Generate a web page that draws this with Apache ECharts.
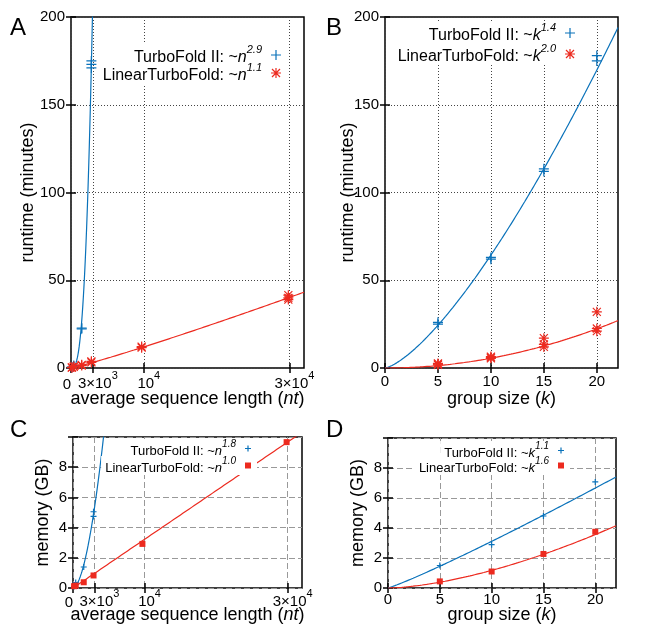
<!DOCTYPE html>
<html><head><meta charset="utf-8">
<script src="https://cdn.jsdelivr.net/npm/echarts@6/dist/echarts.min.js"></script>
<style>html,body{margin:0;padding:0;background:#fff}#c{width:646px;height:627px}</style>
</head><body><div id="c"></div>
<script>
// ---------- data ----------
const lengthTicks = [0, 3000, 10000, 30000];
const groupTicks = [0, 5, 10, 15, 20];

// A: runtime (minutes) vs average sequence length (nt)
const runLenTurboX = [120, 120, 380, 380, 1470, 1470, 2800, 2800, 2800];
const runLenTurboY = [0.3, 0.5, 1.0, 1.4, 22.3, 22.8, 171, 173, 175];
const runLenLinearX = [120, 120, 380, 380, 1470, 1470, 2800, 2800, 9700, 9700, 29850, 29850, 29850];
const runLenLinearY = [0.2, 0.4, 0.6, 0.9, 1.4, 1.8, 3.2, 3.8, 11.6, 12.2, 39, 40, 41.5];
// fit: [exponent, anchor x, anchor y]
const fitRunLenTurbo = [2.9, 2800, 173];
const fitRunLenLinear = [1.1, 29850, 40];

// B: runtime (minutes) vs group size (k)
const runGrpTurboX = [5, 5, 10, 10, 15, 15, 20, 20];
const runGrpTurboY = [25, 26, 62, 63, 112, 113.5, 175, 178];
const runGrpLinearX = [5, 5, 5, 10, 10, 10, 15, 15, 15, 20, 20, 20];
const runGrpLinearY = [1.8, 2.2, 2.6, 5.5, 6.0, 6.5, 12, 13.5, 17, 21, 22.5, 32];
const fitRunGrpTurbo = [1.4, 22, 194];
const fitRunGrpLinear = [2.0, 22, 27];

// C: memory (GB) vs average sequence length (nt)
const memLenTurboX = [150, 380, 1500, 2870, 2870];
const memLenTurboY = [0.1, 0.36, 1.39, 4.74, 5.05];
const memLenLinearX = [150, 380, 1500, 2870, 9700, 29850];
const memLenLinearY = [0.12, 0.16, 0.38, 0.83, 2.92, 9.66];
const fitMemLenTurbo = [1.8, 2870, 4.9];
const fitMemLenLinear = [1.0, 29850, 9.62];

// D: memory (GB) vs group size (k)
const memGrpTurboX = [5, 10, 15, 20];
const memGrpTurboY = [1.5, 2.89, 4.8, 7.07];
const memGrpLinearX = [5, 10, 15, 20];
const memGrpLinearY = [0.44, 1.1, 2.27, 3.75];
const fitMemGrpTurbo = [1.1, 22, 7.4];
const fitMemGrpLinear = [1.6, 22, 4.15];

// ---------- style ----------
const FONT = 'Liberation Sans, Arial, Helvetica, sans-serif';
const BLUE = '#0a72ba';
const RED = '#ec2a1f';
const PLUS = 'path://M-5,-0.6H5V0.6H-5ZM-0.6,-5H0.6V5H-0.6Z';
const PLUS_BOLD = 'path://M-5,-1H5V1H-5ZM-1,-5H1V5H-1Z';
const STAR = 'path://M-5,-0.6H5V0.6H-5ZM-0.6,-5H0.6V5H-0.6Z' +
  'M-3.58,-4.42L4.42,3.58L3.58,4.42L-4.42,-3.58Z' +
  'M-4.42,3.58L3.58,-4.42L4.42,-3.58L-3.58,4.42Z';

function pairs(xs, ys) { return xs.map((x, i) => [x, ys[i]]); }
function fitCurve(p, xmax, ymax) {
  const [e, x0, y0] = p;
  const a = y0 / Math.pow(x0, e);
  const xEnd = Math.min(xmax, Math.pow(ymax * 1.03 / a, 1 / e));
  const pts = [];
  for (let i = 0; i <= 300; i++) { const x = xEnd * i / 300; pts.push([x, a * Math.pow(x, e)]); }
  return pts;
}

const grids = [
  { left: 71, top: 17, width: 233, height: 351 },
  { left: 385, top: 17, width: 233, height: 351 },
  { left: 73, top: 437, width: 229, height: 151 },
  { left: 388, top: 438, width: 228, height: 150 }
].map(g => Object.assign({ show: true, borderColor: '#000', borderWidth: 1.5, backgroundColor: 'transparent' }, g));

const dotted = { show: true, lineStyle: { color: '#444', width: 1, type: [1, 2] } };
const dashed = { show: true, lineStyle: { color: '#999', width: 1, type: [6, 3] } };

function tickRich(fs) {
  return {
    b: { fontFamily: FONT, fontSize: fs, color: '#000', lineHeight: fs + 6, verticalAlign: 'bottom', padding: [0, 0, 0, 10] },
    p: { fontFamily: FONT, fontSize: fs - 4, color: '#000', lineHeight: fs - 4, verticalAlign: 'top' }
  };
}
function lenLabel(v) {
  if (v === 3000) return '{b|3×10}{p|3}';
  if (v === 10000) return '{b|10}{p|4}';
  if (v === 30000) return '{b|3×10}{p|4}';
  return '';
}
const nameRich = {
  a: { fontFamily: FONT, fontSize: 18, color: '#000' },
  i: { fontFamily: FONT, fontSize: 18, color: '#000', fontStyle: 'italic' }
};
const tickStyle = { show: true, inside: true, length: 5, lineStyle: { color: '#000', width: 1.5 } };

function xLen(gi, gap, fs, margin) {
  const ticks = lengthTicks.filter(v => v !== 0);
  return {
    type: 'value', gridIndex: gi, min: 0, max: 32000,
    axisLine: { show: false },
    axisTick: Object.assign({ customValues: lengthTicks }, tickStyle),
    axisLabel: { customValues: ticks, formatter: lenLabel, margin: margin, rich: tickRich(fs),
      showMinLabel: true, showMaxLabel: true, hideOverlap: false },
    splitLine: gi === 0 ? dotted : dashed,
    name: '{a|average sequence length (}{i|nt}{a|)}', nameLocation: 'middle', nameGap: gap,
    nameMoveOverlap: false,
    nameTextStyle: { rich: nameRich }
  };
}
// separate bottom axis carrying only the "0" label of the length axes
function xLenZero(gi, fs, margin) {
  return {
    type: 'value', gridIndex: gi, min: 0, max: 32000, position: 'bottom', offset: 0,
    axisLine: { show: false }, axisTick: { show: false }, splitLine: { show: false },
    axisLabel: { customValues: [lengthTicks[0]], margin: margin + 3, fontFamily: FONT, fontSize: fs, color: '#000',
      align: 'right', padding: [0, 0, 0, 0], showMinLabel: true }
  };
}
function xGrp(gi, gap, fs, margin) {
  return {
    type: 'value', gridIndex: gi, min: 0, max: 22, interval: 5,
    axisLine: { show: false },
    axisTick: Object.assign({ customValues: groupTicks }, tickStyle),
    axisLabel: { customValues: groupTicks, margin: margin, fontFamily: FONT, fontSize: fs, color: '#000' },
    splitLine: gi === 1 ? dotted : dashed,
    name: '{a|group size (}{i|k}{a|)}', nameLocation: 'middle', nameGap: gap,
    nameMoveOverlap: false,
    nameTextStyle: { rich: nameRich }
  };
}
function yAx(gi, max, interval, title, gap, hideTop, fs) {
  return {
    type: 'value', gridIndex: gi, min: 0, max: max, interval: interval,
    axisLine: { show: false },
    axisTick: tickStyle,
    axisLabel: { margin: 6, fontFamily: FONT, fontSize: fs, color: '#000',
      formatter: v => (hideTop && v === max) ? '' : String(v) },
    splitLine: gi < 2 ? dotted : dashed,
    name: title, nameLocation: 'middle', nameGap: gap, nameRotate: 90,
    nameMoveOverlap: false,
    nameTextStyle: { fontFamily: FONT, fontSize: 18, color: '#000' }
  };
}
function mirrorX(base) {
  return Object.assign({}, base, { position: 'top', name: '', axisLabel: { show: false }, splitLine: { show: false } });
}
function mirrorY(base) {
  return Object.assign({}, base, { position: 'right', name: '', axisLabel: { show: false }, splitLine: { show: false } });
}

const xA = xLen(0, 22, 15, 2), xB = xGrp(1, 22, 15, 6), xC = xLen(2, 18, 15, 0), xD = xGrp(3, 18, 15, 4);
const yA = yAx(0, 200, 50, 'runtime (minutes)', 34, false, 15);
const yB = yAx(1, 200, 50, 'runtime (minutes)', 28, false, 15);
const yC = yAx(2, 10, 2, 'memory (GB)', 21, true, 15);
const yD = yAx(3, 10, 2, 'memory (GB)', 21, true, 15);

const xAxes = [xA, xB, xC, xD, mirrorX(xA), mirrorX(xB), mirrorX(xC), mirrorX(xD),
  xLenZero(0, 15, 6), xLenZero(2, 15, 4)];
const yAxes = [yA, yB, yC, yD, mirrorY(yA), mirrorY(yB), mirrorY(yC), mirrorY(yD)];

function fitSeries(i, data, color) {
  return { type: 'line', xAxisIndex: i, yAxisIndex: i, data: data, showSymbol: false, symbol: 'none',
    lineStyle: { color: color, width: 1.2 }, silent: true, clip: true, z: 3, animation: false };
}
function ptSeries(name, i, data, symbol, size, color) {
  return { type: 'scatter', name: name, xAxisIndex: i, yAxisIndex: i, data: data, symbol: symbol,
    symbolSize: size, itemStyle: { color: color, opacity: 1 }, clip: false, z: 4, animation: false };
}

const series = [
  fitSeries(0, fitCurve(fitRunLenTurbo, 32000, 200), BLUE),
  fitSeries(0, fitCurve(fitRunLenLinear, 32000, 200), RED),
  ptSeries('A1', 0, pairs(runLenTurboX, runLenTurboY), PLUS, 10, BLUE),
  ptSeries('A2', 0, pairs(runLenLinearX, runLenLinearY), STAR, 10, RED),
  fitSeries(1, fitCurve(fitRunGrpTurbo, 22, 200), BLUE),
  fitSeries(1, fitCurve(fitRunGrpLinear, 22, 200), RED),
  ptSeries('B1', 1, pairs(runGrpTurboX, runGrpTurboY), PLUS, 10, BLUE),
  ptSeries('B2', 1, pairs(runGrpLinearX, runGrpLinearY), STAR, 10, RED),
  fitSeries(2, fitCurve(fitMemLenTurbo, 32000, 10), BLUE),
  fitSeries(2, fitCurve(fitMemLenLinear, 32000, 10), RED),
  ptSeries('C1', 2, pairs(memLenTurboX, memLenTurboY), PLUS_BOLD, 6, BLUE),
  ptSeries('C2', 2, pairs(memLenLinearX, memLenLinearY), 'rect', 6, RED),
  fitSeries(3, fitCurve(fitMemGrpTurbo, 22, 10), BLUE),
  fitSeries(3, fitCurve(fitMemGrpLinear, 22, 10), RED),
  ptSeries('D1', 3, pairs(memGrpTurboX, memGrpTurboY), PLUS_BOLD, 6, BLUE),
  ptSeries('D2', 3, pairs(memGrpLinearX, memGrpLinearY), 'rect', 6, RED)
];

function legendRich(fs, sfs) {
  return {
    a: { fontFamily: FONT, fontSize: fs, color: '#000', lineHeight: fs + 6, verticalAlign: 'bottom' },
    i: { fontFamily: FONT, fontSize: fs, color: '#000', fontStyle: 'italic', lineHeight: fs + 6, verticalAlign: 'bottom' },
    s: { fontFamily: FONT, fontSize: sfs, color: '#000', fontStyle: 'italic', verticalAlign: 'top', lineHeight: sfs }
  };
}
function leg(name, label, rightPx, topPx, fs, sfs, iconSize) {
  return {
    data: [name], orient: 'vertical', align: 'right', right: rightPx, top: topPx,
    itemWidth: iconSize, itemHeight: iconSize, itemGap: 0,
    padding: [0, 6, 0, 4], backgroundColor: '#fff', selectedMode: false,
    formatter: () => label,
    textStyle: { rich: legendRich(fs, sfs), padding: [0, 4, 0, 0] }
  };
}
const legends = [
  leg('A1', '{a|TurboFold II: ~}{i|n}{s|2.9}', 646 - 287, 44, 16, 11, 10),
  leg('A2', '{a|LinearTurboFold: ~}{i|n}{s|1.1}', 646 - 287, 62, 16, 11, 10),
  leg('B1', '{a|TurboFold II: ~}{i|k}{s|1.4}', 646 - 581, 22, 16, 11, 10),
  leg('B2', '{a|LinearTurboFold: ~}{i|k}{s|2.0}', 646 - 581, 43, 16, 11, 10),
  leg('C1', '{a|TurboFold II: ~}{i|n}{s|1.8}', 646 - 257, 439, 13, 10, 6),
  leg('C2', '{a|LinearTurboFold: ~}{i|n}{s|1.0}', 646 - 257, 456, 13, 10, 6),
  leg('D1', '{a|TurboFold II: ~}{i|k}{s|1.1}', 646 - 570, 441, 13, 10, 6),
  leg('D2', '{a|LinearTurboFold: ~}{i|k}{s|1.6}', 646 - 570, 456, 13, 10, 6)
];

const panelLabels = [['A', 10, 16], ['B', 326, 16], ['C', 10, 418], ['D', 326, 418]].map(([t, x, y]) => ({
  type: 'text', left: x, top: y, style: { text: t, font: '24px ' + FONT, fill: '#000' }
}));

const chart = echarts.init(document.getElementById('c'), null, { renderer: 'canvas' });
chart.setOption({
  animation: false,
  backgroundColor: '#fff',
  grid: grids,
  xAxis: xAxes,
  yAxis: yAxes,
  legend: legends,
  series: series,
  graphic: panelLabels
});
</script></body></html>
